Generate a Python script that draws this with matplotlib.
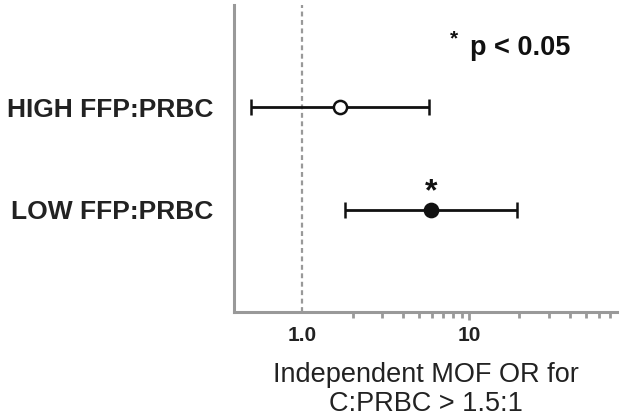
import numpy as np
import matplotlib.pyplot as plt
from matplotlib.ticker import FixedLocator, NullFormatter

plt.rcParams['font.family'] = ['Liberation Sans', 'DejaVu Sans']

# data
groups = ['LOW FFP:PRBC', 'HIGH FFP:PRBC']
odds = [5.92, 1.69]
ci_low = [1.81, 0.495]
ci_high = [19.4, 5.76]
significant = [True, False]

fig = plt.figure(figsize=(6.24, 4.19), dpi=100)
ax = fig.add_axes([0.375, 0.2554, 0.614, 0.7326])

ypos = np.arange(1, len(groups) + 1)
for y, o, lo, hi, sig in zip(ypos, odds, ci_low, ci_high, significant):
    ax.errorbar(o, y, xerr=[[o - lo], [hi - o]], fmt='o', color='#111111',
                ecolor='#111111', elinewidth=2, capsize=5.5, capthick=2,
                markersize=9.5, markeredgewidth=1.8,
                markerfacecolor='#111111' if sig else 'white', zorder=3)
    if sig:
        ax.annotate('*', (o, y), xytext=(0, 2), textcoords='offset points',
                    ha='center', va='bottom', fontsize=23, fontweight='bold',
                    color='#111111')

ax.axvline(1.0, color='#999999', linestyle=(0, (2.2, 1.6)), linewidth=1.6, zorder=1)

ax.set_xscale('log')
ax.set_xlim(0.39, 77)
ax.set_ylim(0, 3)

ax.set_xticks([1, 10])
ax.set_xticklabels(['1.0', '10'], fontsize=15, fontweight='bold', color='#222222')
minor = [2, 3, 4, 5, 6, 7, 8, 9, 20, 30, 40, 50, 60, 70]
ax.xaxis.set_minor_locator(FixedLocator(minor))
ax.xaxis.set_minor_formatter(NullFormatter())
ax.tick_params(axis='x', which='major', direction='out', length=6, width=2,
               color='#999999', pad=4)
ax.tick_params(axis='x', which='minor', direction='out', length=4, width=2,
               color='#999999')
ax.xaxis.get_major_ticks()[0].tick1line.set_visible(False)

ax.set_yticks(ypos)
ax.set_yticklabels(groups, fontsize=19, fontweight='bold', color='#222222')
ax.tick_params(axis='y', length=0, pad=15)

for s in ['top', 'right']:
    ax.spines[s].set_visible(False)
for s in ['left', 'bottom']:
    ax.spines[s].set_color('#999999')
    ax.spines[s].set_linewidth(2.2)

ax.set_xlabel('Independent MOF OR for\nC:PRBC > 1.5:1', fontsize=19.5,
              color='#222222', labelpad=12, linespacing=1.15)

ax.text(0.564, 0.86, '*', transform=ax.transAxes, fontsize=15,
        fontweight='bold', color='#111111', ha='left', va='bottom')
ax.text(0.615, 0.86, 'p < 0.05', transform=ax.transAxes, fontsize=19.5,
        fontweight='bold', color='#111111', ha='left', va='center')

fig.savefig('out.png', dpi=100)
